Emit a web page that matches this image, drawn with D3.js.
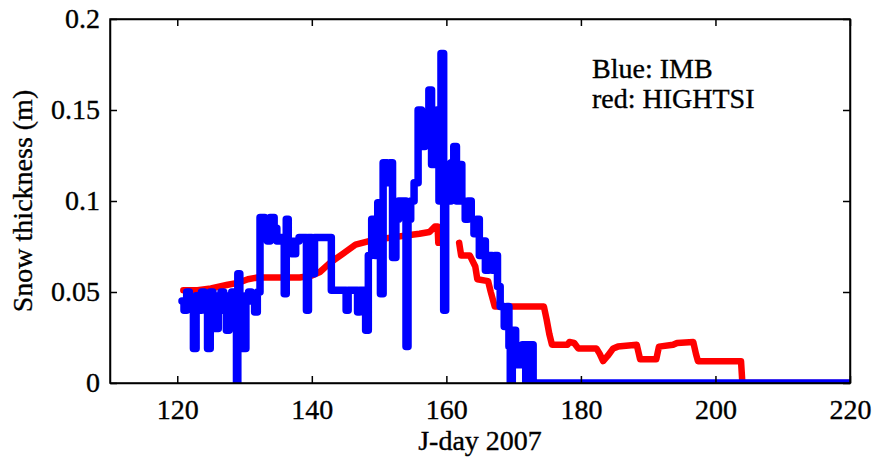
<!DOCTYPE html>
<html>
<head>
<meta charset="utf-8">
<script src="https://cdn.jsdelivr.net/npm/d3@7"></script>
<style>
  body { margin: 0; background: #fff; }
  svg { display: block; }
  .axis text { font-family: "Liberation Serif", "Times New Roman", serif; font-size: 28px; fill: #000; stroke: #000; stroke-width: 0.35; }
  .axis path, .axis line { stroke: #000; stroke-width: 1.5; }
  .label { font-family: "Liberation Serif", "Times New Roman", serif; font-size: 28px; fill: #000; stroke: #000; stroke-width: 0.35; }
</style>
</head>
<body>
<div id="chart"></div>
<script>
// x ticks / y ticks
const xTicks = [120, 140, 160, 180, 200, 220];
const yTicks = [0, 0.05, 0.1, 0.15, 0.2];

// Blue: IMB (step series, [day, thickness m])
const imb = [
  [120.7, 0.045], [121.0, 0.04], [121.4, 0.05], [121.8, 0.045], [122.4, 0.019],
  [122.8, 0.048], [123.2, 0.04], [123.6, 0.05], [124.0, 0.045], [124.5, 0.019],
  [124.9, 0.05], [125.3, 0.042], [125.7, 0.03], [126.1, 0.048], [126.5, 0.05],
  [126.9, 0.04], [127.3, 0.029], [127.7, 0.048], [128.1, 0.05], [128.5, 0.04],
  [128.8, 0], [129.0, 0.06], [129.3, 0.045], [129.8, 0.019], [130.2, 0.048],
  [130.6, 0.05], [131.0, 0.045], [131.5, 0.039], [131.9, 0.05], [132.3, 0.091],
  [133.0, 0.088], [133.4, 0.078], [133.8, 0.091], [134.4, 0.085], [134.8, 0.078],
  [135.3, 0.08], [135.9, 0.049], [136.2, 0.09], [136.5, 0.078], [137.0, 0.071],
  [137.6, 0.078], [138.1, 0.08], [139.2, 0.04], [139.5, 0.08], [140.0, 0.06],
  [140.4, 0.08], [142.9, 0.051], [145.1, 0.04], [145.4, 0.051], [146.8, 0.039],
  [147.1, 0.051], [148.0, 0.029], [148.4, 0.07], [148.9, 0.09], [149.4, 0.07],
  [149.8, 0.099], [150.2, 0.049], [150.6, 0.121], [151.2, 0.11], [151.6, 0.121],
  [152.0, 0.069], [152.5, 0.09], [152.9, 0.1], [154.0, 0.02], [154.3, 0.09],
  [154.7, 0.1], [155.2, 0.11], [155.8, 0.15], [156.3, 0.13], [156.8, 0.14],
  [157.4, 0.161], [157.8, 0.12], [158.6, 0.15], [158.9, 0.1], [159.2, 0.181],
  [159.6, 0.04], [159.9, 0.12], [160.3, 0.1], [160.7, 0.121], [161.1, 0.13],
  [161.5, 0.1], [161.9, 0.12], [162.3, 0.1], [162.8, 0.09], [163.2, 0.1],
  [163.7, 0.09], [164.1, 0.082], [164.5, 0.09], [164.9, 0.07], [165.4, 0.078],
  [165.8, 0.062], [166.3, 0.07], [166.8, 0.062], [167.2, 0.07], [167.6, 0.053],
  [168.0, 0.042], [168.6, 0.031], [169.0, 0.042], [169.3, 0.02], [169.5, 0],
  [169.8, 0.029], [170.3, 0.01], [171.3, 0.021], [171.8, 0], [172.0, 0.021],
  [172.9, 0], [220, 0]
];

// red: HIGHTSI (null = gap)
const hightsi = [
  [120.9, 0.051], [123, 0.051], [125, 0.052], [127.5, 0.054], [129, 0.055],
  [130.5, 0.057], [132, 0.058], [134, 0.058], [136, 0.058], [138.2, 0.058],
  [140, 0.059], [141.2, 0.061], [142.7, 0.066], [144.6, 0.071], [146.5, 0.076],
  [147.5, 0.077], [148.5, 0.078], [150, 0.079], [152, 0.080], [154, 0.081],
  [156, 0.082], [157.5, 0.083], [158.3, 0.086], [158.7, 0.086], [158.8, 0.077],
  [160, null],
  [161.9, 0.077], [162.2, 0.07], [163.5, 0.07], [164.3, 0.064], [164.6, 0.057],
  [166.2, 0.056], [166.6, 0.05], [167.2, 0.042], [174.5, 0.042], [174.9, 0.035],
  [175.3, 0.027], [175.7, 0.021], [178, 0.021], [178.3, 0.0225], [179, 0.022],
  [179.6, 0.019], [182.3, 0.019], [182.8, 0.016], [183.3, 0.012], [184, 0.015],
  [184.8, 0.019], [185.5, 0.02], [188.3, 0.021], [188.8, 0.013], [191.2, 0.013],
  [191.6, 0.02], [193.7, 0.021], [194.3, 0.022], [196.7, 0.0225], [197.1, 0.016],
  [197.4, 0.012], [203.8, 0.012], [204, 0], [220, 0]
];

const width = 875;
const height = 458;
const margin = { top: 19, right: 25, bottom: 75, left: 110 };
const innerWidth = width - margin.left - margin.right;
const innerHeight = height - margin.top - margin.bottom;

const svg = d3.select('#chart').append('svg')
  .attr('width', width)
  .attr('height', height);

const plot = svg.append('g').attr('transform', `translate(${margin.left},${margin.top})`);

const x = d3.scaleLinear().domain([110, 220]).range([0, innerWidth]);
const y = d3.scaleLinear().domain([0, 0.2]).range([innerHeight, 0]);

const clip = svg.append('defs').append('clipPath').attr('id', 'plot-clip');
clip.append('rect').attr('x', 0).attr('y', -4).attr('width', innerWidth).attr('height', innerHeight + 4);

const lines = plot.append('g').attr('clip-path', 'url(#plot-clip)');

const redLine = d3.line()
  .defined((d) => d[1] !== null)
  .x((d) => x(d[0]))
  .y((d) => y(d[1]));

lines.append('path')
  .datum(hightsi)
  .attr('fill', 'none')
  .attr('stroke', '#ff0000')
  .attr('stroke-width', 6.5)
  .attr('stroke-linejoin', 'round')
  .attr('stroke-linecap', 'round')
  .attr('d', redLine);

const blueLine = d3.line()
  .x((d) => x(d[0]))
  .y((d) => y(d[1]))
  .curve(d3.curveStepAfter);

lines.append('path')
  .datum(imb)
  .attr('fill', 'none')
  .attr('stroke', '#0000ff')
  .attr('stroke-width', 7.5)
  .attr('stroke-linejoin', 'round')
  .attr('stroke-linecap', 'round')
  .attr('d', blueLine);

// box with inward ticks on all sides
plot.append('g')
  .attr('class', 'axis')
  .attr('transform', `translate(0,${innerHeight})`)
  .call(d3.axisBottom(x).tickValues(xTicks).tickSizeInner(-7).tickSizeOuter(0))
  .call((g) => g.selectAll('text').attr('y', 36).attr('dy', 0));

plot.append('g')
  .attr('class', 'axis')
  .call(d3.axisTop(x).tickValues(xTicks).tickSizeInner(-7).tickSizeOuter(0))
  .call((g) => g.selectAll('text').remove());

plot.append('g')
  .attr('class', 'axis')
  .call(d3.axisLeft(y).tickValues(yTicks).tickSizeInner(-7).tickSizeOuter(0).tickPadding(10).tickFormat(d3.format('~g')));

plot.append('g')
  .attr('class', 'axis')
  .attr('transform', `translate(${innerWidth},0)`)
  .call(d3.axisRight(y).tickValues(yTicks).tickSizeInner(-7).tickSizeOuter(0))
  .call((g) => g.selectAll('text').remove());

plot.append('rect')
  .attr('width', innerWidth)
  .attr('height', innerHeight)
  .attr('fill', 'none')
  .attr('stroke', '#000')
  .attr('stroke-width', 1.5);

svg.append('text')
  .attr('class', 'label')
  .attr('x', margin.left + innerWidth / 2)
  .attr('y', 450)
  .attr('text-anchor', 'middle')
  .text('J-day 2007');

svg.append('text')
  .attr('class', 'label')
  .attr('transform', `translate(32,${margin.top + innerHeight / 2}) rotate(-90)`)
  .attr('text-anchor', 'middle')
  .text('Snow thickness (m)');

svg.append('text')
  .attr('class', 'label')
  .attr('x', 592)
  .attr('y', 78)
  .text('Blue: IMB');

svg.append('text')
  .attr('class', 'label')
  .attr('x', 592)
  .attr('y', 108)
  .text('red: HIGHTSI');
</script>
</body>
</html>
